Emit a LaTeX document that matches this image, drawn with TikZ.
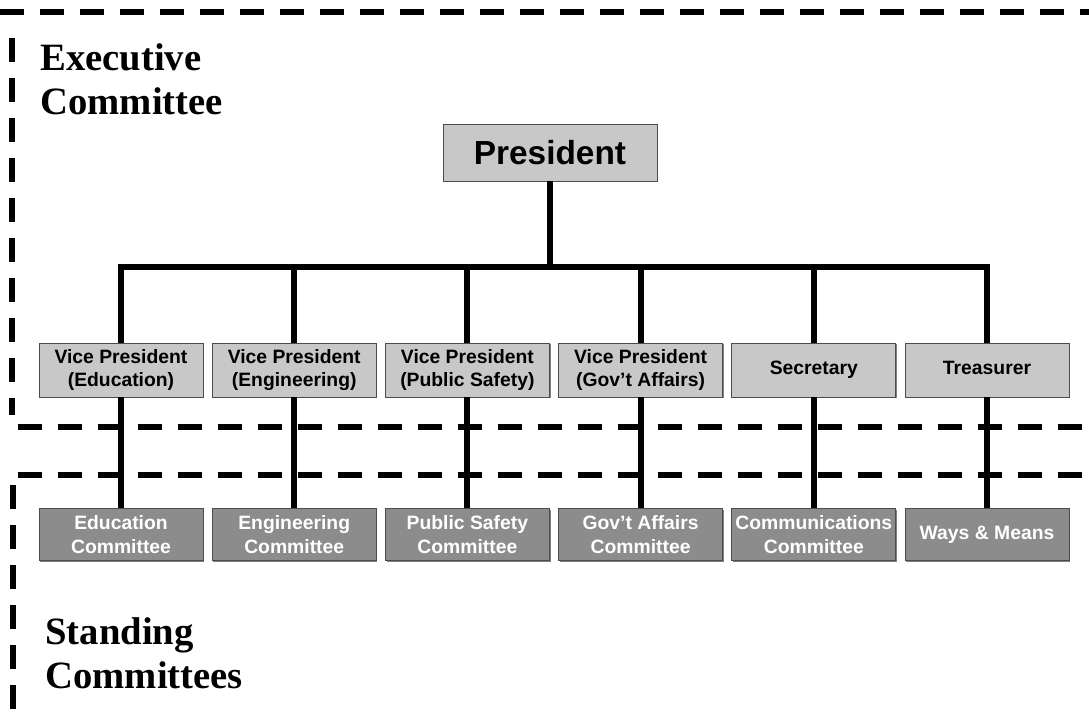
\documentclass[tikz,border=0pt]{standalone}
\usepackage{fontspec}
\setmainfont{Liberation Serif}
\setsansfont{Liberation Sans}
\usetikzlibrary{positioning,shadows}
\definecolor{offgray}{RGB}{200,200,200}
\definecolor{cmtgray}{RGB}{140,140,140}
\begin{document}
\begin{tikzpicture}[
      off/.style={draw=gray!60!black, fill=offgray,
                  minimum width=3.28cm, minimum height=1.08cm, inner sep=1pt,
                  font=\sffamily\bfseries\fontsize{11}{13.5}\selectfont, align=center,
                  drop shadow={shadow xshift=0.7pt, shadow yshift=-0.7pt, fill=black!50, opacity=1}},
      cmt/.style={off, fill=cmtgray, text=white, minimum height=1.04cm},
      pres/.style={off, minimum width=4.28cm, minimum height=1.14cm,
                   font=\sffamily\bfseries\fontsize{19}{22}\selectfont},
      conn/.style={line width=3.4pt},
      frame/.style={line width=3pt, dash pattern=on 0.48cm off 0.32cm},
      grp/.style={anchor=north west, inner sep=0pt, align=left,
                  font=\bfseries\fontsize{22}{25.5}\selectfont}
  ]
    \useasboundingbox (0,0) rectangle (21.78,-14.24);
    % dashed group frames
    \draw[frame] (0,-0.24) -- (21.78,-0.24);
    \draw[frame] (0.24,-0.76) -- (0.24,-8.3);
    \draw[frame] (0.36,-8.54) -- (21.78,-8.54);
    \draw[frame] (0.36,-9.5) -- (21.78,-9.5);
    \draw[frame] (0.26,-9.7) -- (0.26,-14.24);
    \node[grp] (exec) at (0.8,-0.86) {Executive\\Committee};
    \node[grp] (stand) at (0.9,-12.34) {Standing\\Committees};

    % officers
    \node[pres] (pres) at (11.0,-3.05) {President};
    \node[off] (vp1) at (2.42,-7.4) {Vice President\\(Education)};
    \node[off, right=0.17cm of vp1] (vp2) {Vice President\\(Engineering)};
    \node[off, right=0.17cm of vp2] (vp3) {Vice President\\(Public Safety)};
    \node[off, right=0.17cm of vp3] (vp4) {Vice President\\(Gov't Affairs)};
    \node[off, right=0.17cm of vp4] (vp5) {\strut Secretary};
    \node[off, right=0.17cm of vp5] (vp6) {\strut Treasurer};

    % committees
    \node[cmt, below=2.22cm of vp1] (cm1) {Education\\Committee};
    \node[cmt, below=2.22cm of vp2] (cm2) {Engineering\\Committee};
    \node[cmt, below=2.22cm of vp3] (cm3) {Public Safety\\Committee};
    \node[cmt, below=2.22cm of vp4] (cm4) {Gov't Affairs\\Committee};
    \node[cmt, below=2.22cm of vp5] (cm5) {Communications\\Committee};
    \node[cmt, below=2.22cm of vp6] (cm6) {\strut Ways \& Means};

    \coordinate (bus) at (0,-5.34);
    \draw[conn] (pres.south) -- (pres.south |- bus);
    \draw[conn, line cap=rect] (vp1.north |- bus) -- (vp6.north |- bus);
    \foreach \i in {1,...,6} {
      \draw[conn] (vp\i.north |- bus) -- (vp\i.north);
      \draw[conn] (vp\i.south) -- (cm\i.north);
    }
  \end{tikzpicture}
\end{document}
